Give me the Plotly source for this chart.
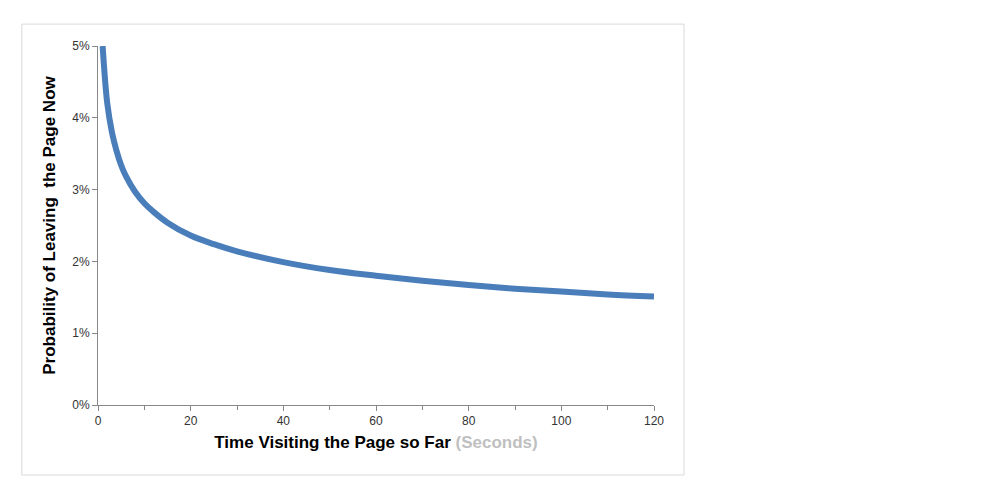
import plotly.graph_objects as go

# seconds on page vs. probability of leaving (%)
seconds = [1, 2, 3, 4, 5, 6, 8, 10, 12, 15, 20, 25, 30, 40, 50, 60, 70, 80, 90, 100, 110, 120]
leave_pct = [5.0, 4.2, 3.8, 3.54, 3.34, 3.19, 2.97, 2.81, 2.69, 2.54, 2.36, 2.24, 2.14,
             1.99, 1.88, 1.80, 1.73, 1.67, 1.62, 1.58, 1.54, 1.51]
y_ticks = [0, 1, 2, 3, 4, 5]
y_labels = ["0%", "1%", "2%", "3%", "4%", "5%"]

title_font = dict(family="Liberation Sans Narrow, Arial Narrow, sans-serif", size=17, color="black")
tick_font = dict(family="Liberation Sans, Arial, sans-serif", size=12, color="#333")

fig = go.Figure()
fig.add_trace(go.Scatter(
    x=seconds, y=leave_pct, mode="lines", line=dict(color="#4a7ebb", width=6, shape="spline"),
    showlegend=False,
))

fig.update_xaxes(
    range=[0, 120], tickvals=list(range(0, 121, 20)), tickfont=tick_font,
    showgrid=False, zeroline=False, showline=True, linecolor="#888", linewidth=1,
    ticks="outside", ticklen=5, tickcolor="#888",
    minor=dict(dtick=10, ticks="outside", ticklen=4, tickcolor="#888"),
    title=dict(text="<b>Time Visiting the Page so Far</b> <b><span style='color:#bfbfbf'>(Seconds)</span></b>",
               font=title_font, standoff=8),
)
fig.update_yaxes(
    range=[0, 5], tickvals=y_ticks, ticktext=y_labels, tickfont=tick_font,
    showgrid=False, zeroline=False, showline=True, linecolor="#888", linewidth=1,
    ticks="outside", ticklen=5, tickcolor="#888",
    title=dict(text="<b>Probability of Leaving  the Page Now</b>", font=title_font, standoff=12),
)

fig.update_layout(
    width=983, height=488, paper_bgcolor="white", plot_bgcolor="white",
    margin=dict(l=90, r=337, t=38, b=91),
    shapes=[
        dict(type="rect", xref="paper", yref="paper", x0=-0.137, x1=1.054, y0=-0.195, y1=1.061,
             line=dict(color="#d9d9d9", width=1)),
        dict(type="circle", xref="paper", yref="paper", x0=1.582, x1=1.588, y0=0.85, y1=0.86,
             fillcolor="red", line=dict(color="red", width=0)),
    ],
)

fig.write_html("out.html")
